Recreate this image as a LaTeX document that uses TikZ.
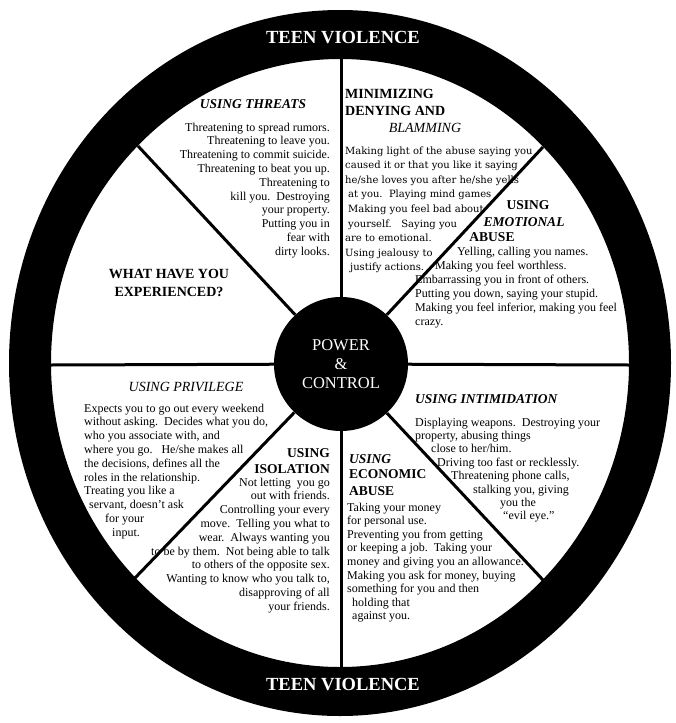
\documentclass[tikz,border=0pt]{standalone}
\usepackage{fontspec}
\setmainfont{Liberation Serif}
\newfontfamily\slabfont{DejaVu Serif}

\begin{document}
\begin{tikzpicture}[x=1pt,y=-1pt,
  spoke/.style={line width=3pt},
  hub/.style={circle,fill=black,minimum size=134pt,inner sep=0pt,text=white,align=center,font=\fontsize{16.5}{19}\selectfont},
  rimtext/.style={text=white,inner sep=0pt,font=\fontsize{18.5}{20}\selectfont\bfseries},
  head/.style={inner sep=0pt,font=\fontsize{13.5}{16}\selectfont\bfseries},
  headit/.style={inner sep=0pt,font=\fontsize{13.5}{16}\selectfont\bfseries\itshape},
  body/.style={inner sep=0pt,font=\fontsize{12}{13.8}\selectfont},
]
\useasboundingbox[fill=white] (0,0) rectangle (675,723);

\fill[even odd rule] (340,363) ellipse [x radius=331pt,y radius=353pt]
  (340,363) ellipse [x radius=289pt,y radius=304pt];

\node[rimtext] (toplabel) at (343,38) {TEEN VIOLENCE};
\node[rimtext] (botlabel) at (343,685) {TEEN VIOLENCE};

\node[hub] (hub) at (341,364) {POWER\\\&\\CONTROL};

\coordinate (rimN) at (341,59);
\coordinate (rimS) at (341,667);
\coordinate (rimW) at (51,365);
\coordinate (rimE) at (629,365);
\coordinate (rimNW) at (138,146);
\coordinate (rimNE) at (543,147);
\coordinate (rimSW) at (135,578);
\coordinate (rimSE) at (543,580);

\foreach \r in {rimN,rimS,rimW,rimE,rimNW,rimNE,rimSW,rimSE}
  \draw[spoke] (hub) -- (\r);

\node[headit,anchor=base] (threatshead) at (253,108) {USING THREATS};
\node[body,align=right,anchor=base east] (threats) at (330,255.2) {Threatening to spread rumors.\\Threatening to leave you.\\Threatening to commit suicide.\\Threatening to beat you up.\\Threatening to\\kill you.\ \ Destroying\\your property.\\Putting you in\\fear with\\dirty looks.};

\node[head,align=center,anchor=base,font=\fontsize{14}{18}\selectfont\bfseries] (experienced) at (169,296) {WHAT HAVE YOU\\EXPERIENCED?};

\node[head,align=left,anchor=base west,font=\fontsize{14}{17}\selectfont\bfseries] (minhead) at (345,115) {MINIMIZING\\DENYING AND};
\node[inner sep=0pt,anchor=base,font=\fontsize{14}{16}\selectfont\itshape] (blamming) at (425,132) {BLAMMING};
\node[body,align=left,anchor=base west,font=\slabfont\fontsize{10}{14.6}\selectfont] (minimizing) at (345,270.8) {Making light of the abuse saying you\\caused it or that you like it saying\\he/she loves you after he/she yells\\\hspace*{3pt}at you.\ \ Playing mind games\\\hspace*{3pt}Making you feel bad about\\\hspace*{3pt}yourself.\ \ \ Saying you\\are to emotional.\\Using jealousy to\\\hspace*{5pt}justify actions.};

\node[head,anchor=base] (emohead1) at (528,209) {USING};
\node[headit,anchor=base] (emohead2) at (524,226) {EMOTIONAL};
\node[head,anchor=base] (emohead3) at (492,241) {ABUSE};
\node[body,align=left,anchor=base west,font=\fontsize{12}{14}\selectfont] (emotional) at (415,325) {\hspace*{42pt}Yelling, calling you names.\\\hspace*{20pt}Making you feel worthless.\\Embarrassing you in front of others.\\Putting you down, saying your stupid.\\Making you feel inferior, making you feel\\crazy.};

\node[inner sep=0pt,anchor=base,font=\fontsize{14}{16}\selectfont\itshape] (privhead) at (186,391) {USING PRIVILEGE};
\node[body,align=left,anchor=base west] (privilege) at (84,536.2) {Expects you to go out every weekend\\without asking.\ \ Decides what you do,\\who you associate with, and\\where you go.\ \ \ He/she makes all\\the decisions, defines all the\\roles in the relationship.\\Treating you like a\\\hspace*{5pt}servant, doesn't ask\\\hspace*{21pt}for your\\\hspace*{28pt}input.};

\node[head,anchor=base east] (isohead1) at (330,457) {USING};
\node[head,anchor=base east] (isohead2) at (330,473) {ISOLATION};
\node[body,align=right,anchor=base east] (isolation) at (330,610.2) {Not letting\ \ you go\\out with friends.\\Controlling your every\\move.\ \ Telling you what to\\wear.\ \ Always wanting you\\to be by them.\ \ Not being able to talk\\to others of the opposite sex.\\Wanting to know who you talk to,\\disapproving of all\\your friends.};

\node[headit,anchor=base west] (intimhead) at (415,403) {USING INTIMIDATION};
\node[body,align=left,anchor=base west,font=\fontsize{12}{13.4}\selectfont] (intimidation) at (415,519.8) {Displaying weapons.\ \ Destroying your\\property, abusing things\\\hspace*{16pt}close to her/him.\\\hspace*{22pt}Driving too fast or recklessly.\\\hspace*{36pt}Threatening phone calls,\\\hspace*{58pt}stalking you, giving\\\hspace*{85pt}you the\\\hspace*{88pt}``evil eye.''};

\node[headit,anchor=base west] (econhead1) at (349,463) {USING};
\node[head,anchor=base west] (econhead2) at (349,478) {ECONOMIC};
\node[head,anchor=base west] (econhead3) at (349,495) {ABUSE};
\node[body,align=left,anchor=base west,font=\fontsize{12}{13.6}\selectfont] (economic) at (347,619.8) {Taking your money\\for personal use.\\Preventing you from getting\\or keeping a job.\ \ Taking your\\money and giving you an allowance.\\Making you ask for money, buying\\something for you and then\\\hspace*{5pt}holding that\\\hspace*{5pt}against you.};

\end{tikzpicture}
\end{document}
